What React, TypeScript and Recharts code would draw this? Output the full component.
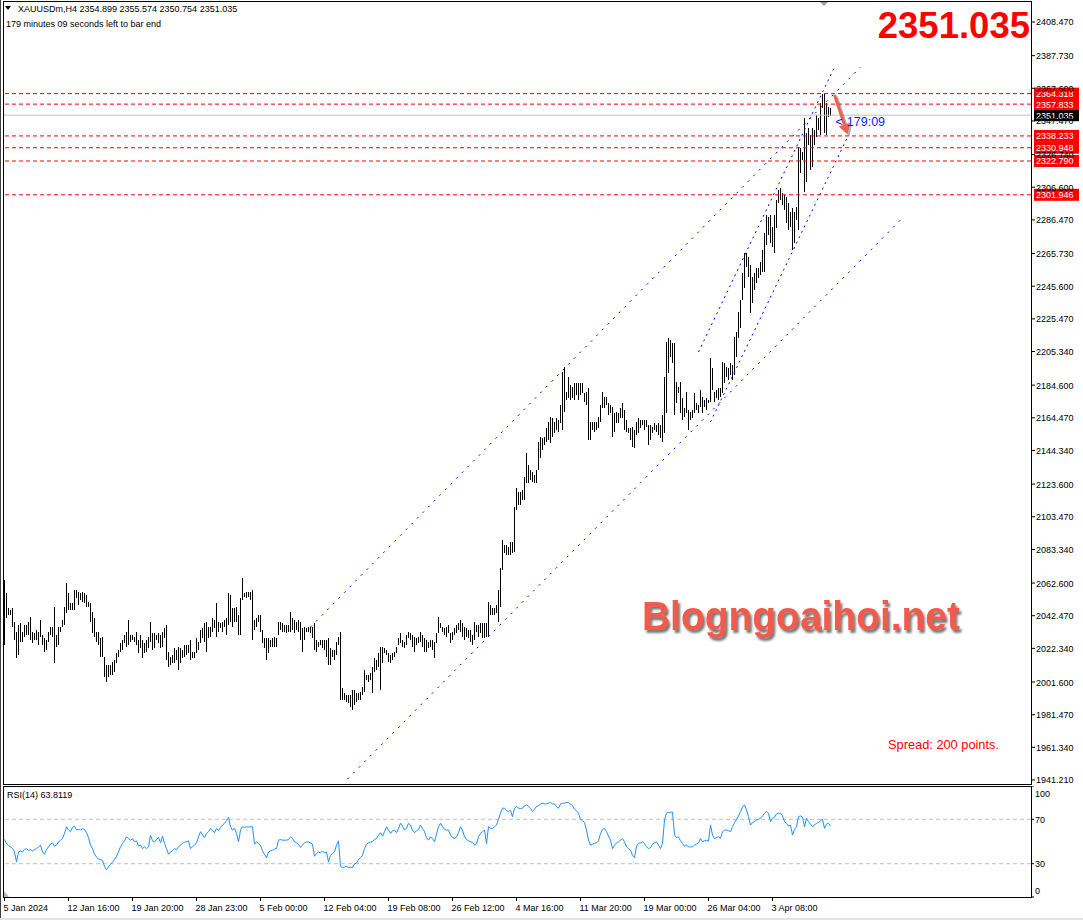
import React from 'react'
import {
  ComposedChart,
  Bar,
  Line,
  XAxis,
  YAxis,
  ReferenceLine,
  ReferenceDot,
} from 'recharts'

// XAUUSDm H4 bars (high / low per bar)
const highs = [
  2064.5, 2056.3, 2047.0, 2046.0, 2047.0, 2038.8, 2032.6, 2036.7, 2037.8, 2032.6,
  2036.7, 2036.7, 2038.8, 2041.9, 2032.6, 2031.6, 2033.7, 2032.6, 2039.8, 2030.6,
  2028.5, 2027.5, 2032.6, 2035.7, 2035.7, 2048.0, 2030.6, 2035.7, 2035.7, 2039.8,
  2048.0, 2062.4, 2056.3, 2050.1, 2050.1, 2058.3, 2058.3, 2057.3, 2056.3, 2057.3,
  2056.3, 2055.2, 2051.1, 2050.1, 2045.0, 2040.9, 2032.6, 2032.6, 2028.5, 2029.5,
  2017.2, 2012.1, 2012.1, 2012.1, 2014.1, 2015.2, 2019.3, 2021.3, 2025.4, 2027.5,
  2030.6, 2032.6, 2039.8, 2030.6, 2030.6, 2029.5, 2032.6, 2027.5, 2030.6, 2027.5,
  2025.4, 2027.5, 2029.5, 2038.8, 2031.6, 2031.6, 2030.6, 2031.6, 2030.6, 2032.6,
  2034.7, 2036.7, 2020.3, 2017.2, 2018.2, 2022.3, 2021.3, 2023.4, 2022.3, 2021.3,
  2024.4, 2024.4, 2024.4, 2027.5, 2020.3, 2020.3, 2028.5, 2026.5, 2033.7, 2034.7,
  2037.8, 2038.8, 2035.7, 2035.7, 2040.9, 2039.8, 2050.1, 2038.8, 2037.8, 2038.8,
  2039.8, 2040.9, 2056.3, 2055.2, 2047.0, 2047.0, 2048.0, 2042.9, 2053.2, 2065.5,
  2056.3, 2057.3, 2057.3, 2057.3, 2058.3, 2039.8, 2040.9, 2042.9, 2042.9, 2033.7,
  2028.5, 2028.5, 2028.5, 2027.5, 2028.5, 2029.5, 2028.5, 2038.8, 2038.8, 2037.8,
  2036.7, 2036.7, 2036.7, 2045.0, 2040.9, 2039.8, 2038.8, 2039.8, 2038.8, 2034.7,
  2035.7, 2034.7, 2035.7, 2035.7, 2035.7, 2037.8, 2027.5, 2026.5, 2027.5, 2027.5,
  2027.5, 2027.5, 2028.5, 2022.3, 2021.3, 2021.3, 2026.5, 2029.5, 2032.6, 1997.7,
  1994.6, 1993.6, 1993.6, 1993.6, 1996.7, 1996.7, 1994.6, 1994.6, 1995.6, 1998.7,
  2009.0, 2005.9, 2005.9, 2006.9, 2011.1, 2016.2, 2015.2, 2019.3, 2023.4, 2023.4,
  2022.4, 2021.3, 2019.3, 2018.2, 2019.3, 2020.3, 2023.4, 2028.5, 2031.6, 2027.5,
  2026.5, 2030.6, 2032.6, 2031.6, 2030.6, 2029.6, 2028.5, 2029.6, 2032.6, 2030.6,
  2028.5, 2027.5, 2026.5, 2027.5, 2027.5, 2026.5, 2032.0, 2041.9, 2037.8, 2035.7,
  2034.7, 2035.7, 2036.7, 2031.6, 2032.6, 2034.7, 2036.7, 2037.8, 2039.8, 2037.8,
  2035.7, 2034.7, 2033.7, 2033.7, 2030.6, 2038.8, 2036.7, 2036.7, 2037.8, 2037.8,
  2037.8, 2037.8, 2051.1, 2049.1, 2047.0, 2047.0, 2049.1, 2058.3, 2071.7, 2089.1,
  2086.0, 2086.0, 2085.0, 2088.1, 2088.1, 2109.7, 2121.0, 2118.9, 2118.9, 2120.0,
  2128.2, 2142.6, 2135.4, 2132.3, 2131.3, 2129.2, 2132.3, 2149.8, 2152.8, 2151.8,
  2152.8, 2158.0, 2162.1, 2165.2, 2164.1, 2162.1, 2164.1, 2163.1, 2172.4, 2192.9,
  2196.0, 2180.6, 2189.8, 2184.7, 2183.7, 2185.7, 2185.7, 2185.7, 2185.7, 2185.7,
  2179.6, 2180.6, 2182.6, 2162.1, 2162.1, 2162.1, 2162.1, 2165.2, 2172.4, 2180.6,
  2177.5, 2177.5, 2173.4, 2172.4, 2171.3, 2167.2, 2168.3, 2167.2, 2170.3, 2173.4,
  2169.3, 2163.1, 2158.0, 2158.0, 2159.0, 2156.9, 2162.1, 2164.1, 2163.1, 2163.1,
  2163.1, 2163.1, 2160.0, 2160.0, 2159.0, 2161.1, 2160.0, 2161.1, 2160.0, 2166.2,
  2189.8, 2211.4, 2213.7, 2212.4, 2210.5, 2210.4, 2186.7, 2183.7, 2186.7, 2176.5,
  2170.3, 2180.6, 2169.3, 2168.3, 2169.3, 2179.5, 2173.4, 2172.4, 2181.6, 2177.5,
  2175.4, 2176.5, 2175.4, 2201.1, 2195.0, 2180.6, 2181.6, 2182.6, 2182.6, 2199.1,
  2198.0, 2196.0, 2195.0, 2198.0, 2197.0, 2214.5, 2217.6, 2229.9, 2237.1, 2253.5,
  2265.9, 2265.9, 2263.8, 2258.7, 2251.5, 2253.5, 2256.6, 2256.6, 2260.7, 2267.9,
  2278.2, 2289.5, 2288.5, 2289.5, 2282.3, 2289.5, 2298.7, 2304.9, 2305.9, 2302.9,
  2301.8, 2300.8, 2296.7, 2291.5, 2293.6, 2291.5, 2294.6, 2331.6, 2330.6, 2328.5,
  2349.1, 2340.0, 2342.9, 2338.8, 2342.9, 2341.9, 2351.1, 2349.1, 2358.3, 2364.3,
  2364.3, 2358.3, 2356.3, 2355.6,
]

const lows = [
  2024.4, 2040.9, 2042.9, 2042.9, 2035.7, 2027.5, 2016.2, 2018.2, 2026.5, 2026.5,
  2029.5, 2030.6, 2030.6, 2027.5, 2025.4, 2027.5, 2027.5, 2024.4, 2029.5, 2024.4,
  2020.3, 2021.3, 2026.5, 2030.6, 2029.5, 2013.1, 2023.4, 2024.4, 2032.6, 2035.7,
  2036.7, 2043.9, 2046.0, 2046.0, 2046.0, 2046.0, 2053.2, 2049.1, 2052.2, 2051.1,
  2050.1, 2048.0, 2048.0, 2038.8, 2031.6, 2029.5, 2026.5, 2024.4, 2017.2, 2017.2,
  2004.9, 2001.8, 2004.9, 2005.9, 2005.9, 2008.0, 2013.1, 2017.2, 2020.3, 2021.3,
  2025.4, 2023.4, 2024.4, 2026.5, 2027.5, 2026.5, 2024.4, 2019.3, 2022.3, 2016.2,
  2019.3, 2020.3, 2022.3, 2026.5, 2021.3, 2022.3, 2027.5, 2025.4, 2022.3, 2023.4,
  2028.5, 2015.2, 2011.1, 2012.1, 2013.1, 2013.1, 2015.2, 2009.0, 2013.1, 2016.2,
  2017.2, 2018.2, 2019.3, 2015.2, 2016.2, 2016.2, 2019.3, 2021.3, 2025.4, 2028.5,
  2026.5, 2020.3, 2028.5, 2029.5, 2032.6, 2034.7, 2029.5, 2032.6, 2034.7, 2032.6,
  2035.7, 2030.6, 2036.7, 2038.8, 2035.7, 2038.8, 2038.8, 2030.6, 2030.6, 2052.2,
  2054.2, 2053.2, 2054.2, 2052.2, 2027.5, 2033.7, 2035.7, 2038.8, 2032.6, 2025.4,
  2022.3, 2015.2, 2019.3, 2023.4, 2023.4, 2023.4, 2023.4, 2030.6, 2033.7, 2032.6,
  2032.6, 2031.6, 2032.6, 2032.6, 2033.7, 2031.6, 2033.7, 2032.6, 2027.5, 2020.3,
  2027.5, 2032.6, 2032.6, 2031.6, 2028.5, 2021.3, 2020.3, 2023.4, 2024.4, 2022.3,
  2021.3, 2017.2, 2012.1, 2012.1, 2017.2, 2015.2, 2018.2, 2024.4, 1990.5, 1990.5,
  1990.5, 1989.5, 1988.5, 1986.4, 1984.3, 1987.4, 1989.5, 1990.5, 1990.5, 1993.6,
  1995.6, 2002.8, 2001.8, 2002.8, 1994.6, 2008.0, 2009.0, 2011.1, 1996.7, 2013.1,
  2019.3, 2018.2, 2014.1, 2013.1, 2015.2, 2017.2, 2019.3, 2024.4, 2025.4, 2023.4,
  2022.4, 2024.4, 2028.5, 2027.5, 2023.4, 2020.3, 2024.4, 2025.4, 2026.5, 2023.4,
  2020.3, 2020.3, 2022.4, 2023.4, 2021.3, 2016.2, 2025.4, 2031.6, 2034.7, 2032.6,
  2030.6, 2029.6, 2031.6, 2025.4, 2027.5, 2030.6, 2031.6, 2033.7, 2032.6, 2029.6,
  2027.5, 2029.6, 2028.5, 2026.5, 2024.4, 2027.5, 2032.6, 2029.6, 2031.6, 2028.5,
  2028.5, 2029.6, 2029.6, 2042.9, 2042.9, 2042.9, 2043.9, 2038.8, 2048.0, 2070.6,
  2080.9, 2079.9, 2079.9, 2079.9, 2080.9, 2081.9, 2107.6, 2110.7, 2110.7, 2113.8,
  2113.8, 2124.1, 2124.1, 2126.1, 2125.1, 2124.1, 2124.1, 2132.3, 2139.5, 2144.6,
  2147.7, 2149.8, 2150.8, 2148.7, 2152.8, 2154.9, 2156.9, 2155.9, 2161.1, 2156.9,
  2168.3, 2175.4, 2176.5, 2175.4, 2176.5, 2175.4, 2178.5, 2175.4, 2178.5, 2179.6,
  2174.4, 2172.4, 2150.8, 2150.8, 2156.9, 2155.9, 2156.9, 2157.9, 2162.1, 2170.3,
  2170.3, 2172.4, 2166.2, 2167.2, 2152.8, 2155.9, 2161.1, 2161.1, 2164.1, 2164.1,
  2156.9, 2155.9, 2154.9, 2150.8, 2146.7, 2145.6, 2153.9, 2154.9, 2158.0, 2160.0,
  2157.0, 2159.0, 2147.7, 2150.8, 2154.9, 2157.0, 2155.9, 2153.9, 2151.8, 2149.8,
  2154.9, 2167.2, 2191.9, 2202.2, 2198.1, 2166.2, 2173.4, 2179.5, 2167.2, 2163.1,
  2165.2, 2167.2, 2157.0, 2163.1, 2164.1, 2167.2, 2169.3, 2167.2, 2171.3, 2167.2,
  2171.3, 2169.3, 2173.4, 2174.4, 2181.6, 2174.4, 2176.5, 2175.4, 2177.5, 2179.5,
  2185.7, 2189.8, 2187.8, 2190.9, 2187.8, 2190.9, 2202.2, 2213.5, 2219.6, 2237.1,
  2244.3, 2257.6, 2251.5, 2228.9, 2235.0, 2243.3, 2247.4, 2250.5, 2252.5, 2254.6,
  2254.6, 2271.0, 2277.2, 2272.0, 2270.0, 2265.9, 2281.3, 2296.7, 2298.7, 2295.7,
  2292.6, 2284.4, 2280.3, 2282.3, 2267.9, 2272.0, 2286.4, 2280.2, 2315.2, 2323.4,
  2303.9, 2310.0, 2332.6, 2317.2, 2319.3, 2332.6, 2337.8, 2341.9, 2338.8, 2355.2,
  2339.8, 2338.8, 2350.1, 2350.8,
]

// RSI(14) per bar
const rsiValues = [
  51.8, 48.2, 46.4, 45.2, 43.6, 40.6, 31.5, 40.6, 41.5, 40.6,
  42.7, 43.6, 42.1, 42.7, 41.5, 42.7, 43.6, 45.2, 46.7, 40.6,
  38.5, 42.7, 45.2, 47.6, 48.8, 45.8, 46.7, 49.7, 51.2, 52.7,
  57.3, 63.3, 60.3, 58.8, 62.7, 63.9, 60.3, 60.9, 60.3, 61.5,
  60.9, 57.9, 53.6, 46.7, 43.6, 38.5, 36.1, 34.2, 33.6, 33.0,
  27.6, 24.5, 27.0, 29.4, 31.5, 33.6, 36.7, 40.6, 45.2, 48.2,
  50.6, 54.2, 52.7, 51.2, 52.4, 49.7, 50.6, 45.8, 46.7, 43.6,
  45.2, 43.6, 45.2, 55.8, 50.6, 49.7, 51.8, 53.6, 48.8, 54.8,
  48.2, 43.6, 38.5, 40.6, 41.5, 43.6, 42.7, 45.2, 46.7, 48.2,
  49.4, 49.7, 50.6, 43.6, 45.2, 46.7, 48.8, 54.2, 58.8, 55.8,
  53.6, 57.3, 58.8, 61.8, 60.3, 57.9, 61.8, 59.7, 62.7, 64.8,
  66.4, 68.8, 71.8, 63.3, 60.3, 61.8, 57.3, 49.7, 60.3, 63.3,
  62.7, 63.3, 63.0, 63.3, 63.3, 47.6, 49.7, 48.2, 46.7, 41.5,
  38.5, 35.2, 40.6, 41.5, 42.1, 43.3, 43.6, 51.2, 51.8, 51.2,
  51.2, 51.2, 51.8, 54.2, 52.7, 49.7, 48.8, 47.6, 44.5, 46.7,
  48.8, 49.7, 49.4, 48.8, 47.6, 36.7, 39.1, 40.6, 39.7, 41.5,
  39.7, 40.6, 31.5, 37.6, 39.1, 40.6, 46.7, 50.6, 27.6, 26.4,
  27.0, 27.6, 26.4, 27.0, 26.4, 30.0, 30.6, 33.6, 35.5, 37.6,
  43.6, 47.6, 48.8, 49.4, 49.7, 51.8, 52.7, 55.8, 57.9, 54.8,
  58.8, 63.3, 60.3, 57.3, 59.7, 60.3, 57.9, 61.8, 66.4, 63.9,
  60.3, 61.8, 66.4, 64.8, 60.3, 57.9, 59.7, 60.9, 64.8, 61.8,
  58.8, 53.6, 51.2, 54.2, 52.7, 49.7, 56.7, 63.3, 66.4, 63.3,
  60.9, 60.3, 60.3, 55.8, 53.6, 52.7, 54.2, 57.9, 63.3, 60.3,
  54.2, 51.8, 50.6, 49.7, 49.4, 46.7, 48.2, 54.2, 57.3, 58.8,
  60.3, 48.2, 63.3, 61.8, 61.8, 63.3, 64.8, 70.0, 75.5, 80.0,
  80.0, 77.9, 77.0, 77.9, 72.4, 80.0, 81.5, 80.0, 79.7, 80.0,
  82.1, 83.0, 81.5, 80.0, 77.0, 79.1, 81.5, 82.1, 83.9, 84.5,
  83.9, 83.9, 84.5, 85.1, 83.9, 83.9, 81.5, 80.0, 83.9, 84.5,
  84.5, 85.1, 85.1, 83.9, 82.1, 79.1, 77.9, 75.5, 70.0, 68.8,
  67.0, 60.3, 51.2, 46.7, 47.6, 48.2, 48.8, 50.6, 57.3, 60.9,
  61.8, 58.8, 54.8, 51.2, 43.6, 46.7, 48.8, 49.7, 51.2, 52.7,
  49.7, 45.2, 43.6, 42.1, 37.6, 35.5, 45.8, 48.2, 48.8, 49.7,
  48.2, 45.2, 43.6, 44.5, 47.6, 48.8, 49.7, 46.7, 43.6, 48.2,
  69.4, 75.5, 76.1, 76.4, 76.4, 55.8, 53.6, 54.2, 50.6, 48.2,
  45.8, 46.7, 45.2, 45.2, 45.2, 46.7, 47.6, 48.8, 52.7, 49.7,
  50.6, 51.2, 50.3, 64.8, 55.8, 52.7, 53.6, 54.2, 52.7, 58.8,
  60.3, 60.3, 59.7, 58.8, 63.3, 67.0, 70.0, 73.0, 77.0, 80.9,
  83.0, 78.5, 72.4, 64.8, 67.0, 67.9, 69.4, 70.0, 70.9, 73.0,
  75.5, 77.0, 75.5, 67.9, 70.9, 71.8, 74.8, 75.5, 75.5, 73.0,
  67.9, 66.4, 63.9, 64.8, 55.8, 60.9, 63.3, 72.4, 73.0, 71.8,
  63.3, 70.9, 67.9, 65.7, 63.3, 64.8, 66.4, 67.0, 68.8, 70.0,
  61.8, 65.7, 66.4, 63.8,
]

const timeLabels = [
  '5 Jan 2024', '12 Jan 16:00', '19 Jan 20:00', '28 Jan 23:00', '5 Feb 00:00',
  '12 Feb 04:00', '19 Feb 08:00', '26 Feb 12:00', '4 Mar 16:00', '11 Mar 20:00',
  '19 Mar 00:00', '26 Mar 04:00', '3 Apr 08:00',
]
const timeTickBars = [0, 32, 64, 96, 128, 160, 192, 224, 256, 288, 320, 352, 384]

const priceTicks = [
  2408.47, 2387.73, 2367.6, 2347.47, 2326.74, 2306.6, 2286.47, 2265.73, 2245.6,
  2225.47, 2205.34, 2184.6, 2164.47, 2144.34, 2123.6, 2103.47, 2083.34, 2062.6,
  2042.47, 2022.34, 2001.6, 1981.47, 1961.34, 1941.21,
]
const rsiTicks = [0, 30, 70, 100]
const rsiLevels = [70, 30]

const levelLines = [2364.318, 2357.833, 2338.233, 2330.948, 2322.79, 2301.946]
const bidPrice = 2351.035
const lastBar = { open: 2354.899, high: 2355.574, low: 2350.754, close: 2351.035 }
const rsiNow = '63.8119'
const countdown = '179:09'

// trend channels: [bar index, price] end points
const wideChannel = [
  [{ x: 153, y: 2035.5 }, { x: 428, y: 2380.7 }],
  [{ x: 171.5, y: 1941.8 }, { x: 448, y: 2286.4 }],
]
const steepChannel = [
  [{ x: 347, y: 2205.0 }, { x: 415.5, y: 2382.0 }],
  [{ x: 353, y: 2161.9 }, { x: 422, y: 2338.8 }],
]
const arrowLine = [{ x: 415, y: 2363.5 }, { x: 421.5, y: 2339.4 }]

const bars = highs.map((h, i) => ({ i, range: [lows[i], h], rsi: rsiValues[i] }))

const FONT = '"Liberation Sans", Arial, sans-serif'
const X_DOMAIN: [number, number] = [-0.75, 513.25]
const Y_DOMAIN: [number, number] = [1938.73, 2422.03]
const RSI_PLOT_H = 111

function OhlcBar(props: any) {
  const { x, y, width, height } = props
  if (x == null || y == null) return null
  const cx = Math.floor(x + width / 2)
  const top = Math.min(y, y + height)
  return (
    <rect x={cx} y={top} width={1} height={Math.max(1, Math.abs(height))}
      fill="#000" shapeRendering="crispEdges" />
  )
}

function PriceTick({ x, y, payload }: any) {
  return (
    <text x={x} y={y} dy={3.5} fontSize={9} fontFamily={FONT} fill="#000" textAnchor="start">
      {payload.value.toFixed(3)}
    </text>
  )
}

// MT4 keeps the end labels inside the sub-window
function RsiTick({ x, y, payload }: any) {
  const ty = Math.min(Math.max(y, 7), RSI_PLOT_H - 7)
  return (
    <text x={x} y={ty} dy={3.5} fontSize={9} fontFamily={FONT} fill="#000" textAnchor="start">
      {payload.value}
    </text>
  )
}

function TimeTick({ x, y, payload }: any) {
  const label = timeLabels[timeTickBars.indexOf(payload.value)]
  return (
    <text x={x - 1} y={y} dy={9.5} fontSize={9} fontFamily={FONT} fill="#000" textAnchor="start">
      {label}
    </text>
  )
}

const priceTag = (value: number, bg: string) => (props: any) => {
  const vb = props.viewBox
  if (!vb) return null
  const x = vb.x + vb.width + 3
  const y = vb.y
  return (
    <g>
      <rect x={x} y={y - 6} width={45} height={12} fill={bg} />
      <text x={x + 2} y={y + 3.5} fontSize={9} fontFamily={FONT} fill="#fff">
        {value.toFixed(3)}
      </text>
    </g>
  )
}

function ArrowShape(props: any) {
  const { x1, y1, x2, y2 } = props
  if (x1 == null) return null
  const a = Math.atan2(y2 - y1, x2 - x1)
  const len = 10
  const w = 6
  const bx = x2 - len * Math.cos(a)
  const by = y2 - len * Math.sin(a)
  const head = `${x2},${y2} ${bx + w * Math.sin(a)},${by - w * Math.cos(a)} ${bx - w * Math.sin(a)},${by + w * Math.cos(a)}`
  return (
    <g>
      <g transform="translate(2,2)" opacity={0.45}>
        <line x1={x1} y1={y1} x2={bx} y2={by} stroke="#555" strokeWidth={3} />
        <polygon points={head} fill="#555" />
      </g>
      <line x1={x1} y1={y1} x2={bx} y2={by} stroke="#f06050" strokeWidth={3} />
      <polygon points={head} fill="#f06050" />
    </g>
  )
}

function CountdownShape(props: any) {
  const { cx, cy } = props
  if (cx == null) return null
  return (
    <text x={cx} y={cy + 4.5} fontSize={12.5} fontFamily={FONT} fill="#1a1aff">
      {'<'}
      <tspan dx={4}>{countdown}</tspan>
    </text>
  )
}

export default function App() {
  return (
    <div style={{ position: 'absolute', left: 0, top: 0, width: 1083, height: 920, background: '#fff', overflow: 'hidden' }}>
      <div style={{ position: 'absolute', left: 0, top: 0 }}>
        <ComposedChart width={1083} height={786} data={bars}
          margin={{ top: 0, right: 0, bottom: 2, left: 3 }}>
          <XAxis dataKey="i" type="number" domain={X_DOMAIN} hide allowDataOverflow />
          <YAxis orientation="right" width={52} domain={Y_DOMAIN} ticks={priceTicks}
            interval={0} allowDataOverflow axisLine={false} tickSize={4} tickMargin={1}
            tickLine={{ stroke: '#000' }} tick={<PriceTick />} />
          <Bar dataKey="range" barSize={1} isAnimationActive={false} shape={OhlcBar} />
          {wideChannel.map((seg, k) => (
            <ReferenceLine key={'w' + k} segment={seg} stroke="#0000ff" strokeDasharray="2 6" />
          ))}
          {steepChannel.map((seg, k) => (
            <ReferenceLine key={'s' + k} segment={seg} stroke="#0000ff" strokeDasharray="2 4" />
          ))}
          <ReferenceLine y={bidPrice} stroke="#c0c0c0" label={priceTag(bidPrice, '#000')} />
          {levelLines.map((v) => (
            <ReferenceLine key={v} y={v} stroke="#ff0000" strokeDasharray="4 3"
              label={priceTag(v, '#ff0000')} />
          ))}
          <ReferenceLine segment={arrowLine} shape={ArrowShape} />
          <ReferenceDot x={415.5} y={2347.4} r={0} shape={CountdownShape} />
        </ComposedChart>
      </div>

      <div style={{ position: 'absolute', left: 0, top: 786 }}>
        <ComposedChart width={1083} height={RSI_PLOT_H + 21} data={bars}
          margin={{ top: 0, right: 0, bottom: 0, left: 3 }}>
          <XAxis dataKey="i" type="number" domain={X_DOMAIN} ticks={timeTickBars} interval={0}
            allowDataOverflow height={21} axisLine={false} tickSize={4} tickMargin={0}
            tickLine={{ stroke: '#000' }} tick={<TimeTick />} />
          <YAxis orientation="right" width={52} domain={[0, 100]} ticks={rsiTicks} interval={0}
            axisLine={false} tickSize={3} tickMargin={1} tickLine={{ stroke: '#000' }}
            tick={<RsiTick />} />
          {rsiLevels.map((v) => (
            <ReferenceLine key={v} y={v} stroke="#c0c0c0" strokeDasharray="4 3" />
          ))}
          <Line dataKey="rsi" type="linear" stroke="#1e90ff" strokeWidth={1} dot={false}
            isAnimationActive={false} />
        </ComposedChart>
      </div>

      <svg width={1083} height={920} style={{ position: 'absolute', left: 0, top: 0, pointerEvents: 'none' }}>
        <defs>
          <filter id="wmShadow" x="-5%" y="-20%" width="110%" height="150%">
            <feDropShadow dx="2" dy="3" stdDeviation="1.2" floodColor="#4a4a4a" floodOpacity="0.75" />
          </filter>
        </defs>
        <line x1={0.5} y1={0} x2={0.5} y2={918} stroke="#404040" />
        <rect x={3.5} y={1.5} width={1028} height={783} fill="none" stroke="#000" />
        <rect x={3.5} y={786.5} width={1028} height={RSI_PLOT_H} fill="none" stroke="#000" />
        <rect x={0} y={918} width={1083} height={2} fill="#e4e4e4" />

        <polygon points="5,6 11,6 8,10" fill="#000" />
        <text x={18} y={12} fontSize={9} fontFamily={FONT} fill="#000">
          {`XAUUSDm,H4  ${lastBar.open.toFixed(3)} ${lastBar.high.toFixed(3)} ${lastBar.low.toFixed(3)} ${lastBar.close.toFixed(3)}`}
        </text>
        <text x={6} y={27} fontSize={9} fontFamily={FONT} fill="#000">
          179 minutes 09 seconds left to bar end
        </text>
        <polygon points="820,2 828,2 824,6" fill="#a0a0a0" />
        <polygon points="4,897 9,897 4,891" fill="#b8b8b8" />

        <text x={1030} y={37.5} fontSize={36.5} fontWeight="bold" fontFamily={FONT}
          fill="#ff0000" textAnchor="end">
          {bidPrice.toFixed(3)}
        </text>

        <text x={642} y={630} fontSize={40} fontWeight="bold" fontFamily={FONT}
          fill="#f25a4b" textLength={318} lengthAdjust="spacingAndGlyphs" filter="url(#wmShadow)">
          Blogngoaihoi.net
        </text>

        <text x={888} y={749} fontSize={12} fontFamily={FONT} fill="#ff0000"
          textLength={111} lengthAdjust="spacingAndGlyphs">
          Spread: 200 points.
        </text>

        <text x={7} y={798} fontSize={9} fontFamily={FONT} fill="#000">
          {`RSI(14) ${rsiNow}`}
        </text>
      </svg>
    </div>
  )
}
